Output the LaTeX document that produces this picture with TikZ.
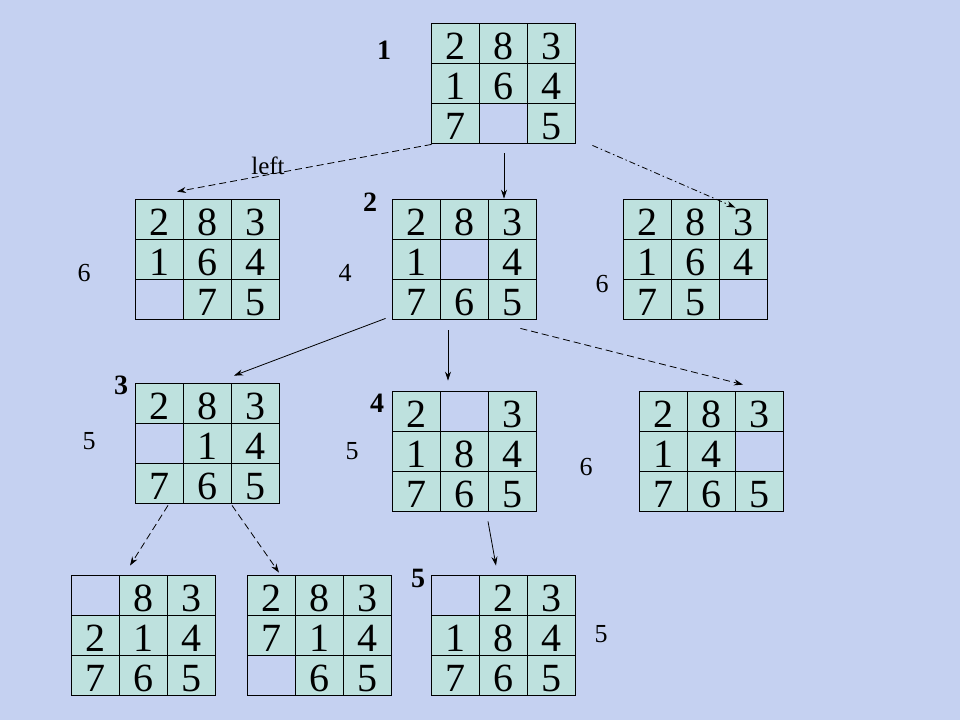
\documentclass[tikz,border=0pt]{standalone}
\usepackage{fontspec}
\setmainfont{Liberation Serif}
\usetikzlibrary{calc,arrows.meta}
\definecolor{paper}{RGB}{197,209,241}
\definecolor{tilefill}{RGB}{190,225,222}
\tikzset{
  board/.style={minimum width=144pt, minimum height=120pt, inner sep=0pt},
  cellline/.style={draw=black, line width=1pt},
  digit/.style={font=\fontsize{40}{40}\selectfont, anchor=base, inner sep=0pt},
  order/.style={font=\fontsize{28}{28}\selectfont\bfseries, inner sep=0pt},
  cost/.style={font=\fontsize{26}{26}\selectfont, inner sep=0pt},
  dashline/.style={dash pattern=on 7pt off 4pt},
  dotline/.style={dash pattern=on 6pt off 3pt on 1.5pt off 3pt},
}
% one 8-puzzle board: name, centre x, centre y, 9 entries (0 = blank)
\newcommand{\puzzle}[4]{%
  \node[board] (#1) at (#2,#3) {};
  \foreach \v [count=\i from 0] in {#4} {
    \pgfmathtruncatemacro{\cellc}{mod(\i,3)}
    \pgfmathtruncatemacro{\cellr}{div(\i,3)}
    \ifnum\v=0
      \draw[cellline] ($(#1.north west)+(48*\cellc,40*\cellr)$) rectangle +(48,40);
    \else
      \draw[cellline, fill=tilefill] ($(#1.north west)+(48*\cellc,40*\cellr)$) rectangle +(48,40);
      \node[digit] (#1-\i) at ($(#1.north west)+(48*\cellc+24,40*\cellr+36)$) {\v};
    \fi
  }
}
\begin{document}
\begin{tikzpicture}[x=1pt, y=-1pt, >={Stealth[length=9pt,width=6pt]}, line width=0.8pt]
  \fill[paper] (0,0) rectangle (960,720);
  \useasboundingbox (0,0) rectangle (960,720);
  % boards
  \puzzle{T}{504}{84}{2,8,3,1,6,4,7,0,5}
  \puzzle{A}{208}{260}{2,8,3,1,6,4,0,7,5}
  \puzzle{B}{465}{260}{2,8,3,1,0,4,7,6,5}
  \puzzle{C}{696}{260}{2,8,3,1,6,4,7,5,0}
  \puzzle{D}{208}{444}{2,8,3,0,1,4,7,6,5}
  \puzzle{E}{465}{452}{2,0,3,1,8,4,7,6,5}
  \puzzle{F}{712}{452}{2,8,3,1,4,0,7,6,5}
  \puzzle{G}{144}{636}{0,8,3,2,1,4,7,6,5}
  \puzzle{H}{320}{636}{2,8,3,7,1,4,0,6,5}
  \puzzle{I}{504}{636}{0,2,3,1,8,4,7,6,5}
  % order of expansion
  \node[order] (n1) at (384,50) {1};
  \node[order] (n2) at (370,202) {2};
  \node[order] (n3) at (121,385) {3};
  \node[order] (n4) at (377,403) {4};
  \node[order] (n5) at (418,578) {5};
  % costs
  \node[cost] (fA) at (84,273) {6};
  \node[cost] (fB) at (345,273) {4};
  \node[cost] (fC) at (602,284) {6};
  \node[cost] (fD) at (89,441) {5};
  \node[cost] (fE) at (352,451) {5};
  \node[cost] (fF) at (586,467) {6};
  \node[cost] (fI) at (601,634) {5};
  \node[font=\fontsize{25}{25}\selectfont, inner sep=0pt] (moveleft) at (268,166) {left};
  % moves
  \draw[->, dashline] (T.south west) -- ($(A.north)+(-31,-8)$);
  \draw[->] ($(T.south)+(0,9)$) -- ($(B.north)+(39,-1)$);
  \draw[->, dotline] ($(T.south east)+(16,1)$) -- ($(C.north east)+(-33,8)$);
  \draw[->] ($(B.south west)+(-7,-2)$) -- ($(D.north)+(26,-8)$);
  \draw[->] ($(B.south)+(-17,10)$) -- ($(E.north)+(-17,-11)$);
  \draw[->, dashline] ($(B.south east)+(-17,8)$) -- ($(F.north)+(31,-7)$);
  \draw[->, dashline] ($(D.south)+(-40,1)$) -- ($(G.north)+(-14,-10)$);
  \draw[->, dashline] ($(D.south)+(24,1)$) -- ($(H.north)+(-41,-3)$);
  \draw[->] ($(E.south)+(23,9)$) -- ($(I.north)+(-8,-10)$);
\end{tikzpicture}
\end{document}
